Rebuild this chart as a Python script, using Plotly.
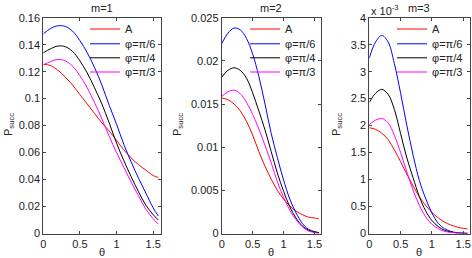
import plotly.graph_objects as go

# ---- data ----
theta = [0, 0.1, 0.2, 0.3, 0.4, 0.5, 0.6, 0.7, 0.8, 0.9, 1.0, 1.1, 1.2, 1.3, 1.4, 1.5, 1.57]
series_names = ["A", "φ=π/6", "φ=π/4", "φ=π/3"]
series_colors = ["#ff0000", "#0000ff", "#000000", "#ff00ff"]

# m = 1
m1_A    = [0.1255, 0.1245, 0.121, 0.116, 0.110, 0.103, 0.096, 0.089, 0.082, 0.076, 0.069, 0.062, 0.056, 0.051, 0.047, 0.043, 0.0415]
m1_pi6  = [0.148, 0.152, 0.154, 0.1535, 0.150, 0.143, 0.134, 0.123, 0.110, 0.095, 0.081, 0.066, 0.053, 0.041, 0.030, 0.019, 0.013]
m1_pi4  = [0.134, 0.137, 0.139, 0.1385, 0.135, 0.128, 0.119, 0.108, 0.096, 0.082, 0.067, 0.054, 0.042, 0.031, 0.021, 0.014, 0.010]
m1_pi3  = [0.125, 0.1275, 0.129, 0.128, 0.124, 0.117, 0.108, 0.097, 0.085, 0.072, 0.060, 0.049, 0.038, 0.028, 0.018, 0.011, 0.007]

# m = 2
m2_A    = [0.0157, 0.0155, 0.0150, 0.0142, 0.0130, 0.0114, 0.0095, 0.0078, 0.0063, 0.0050, 0.0040, 0.0032, 0.0026, 0.0022, 0.0019, 0.0018, 0.0017]
m2_pi6  = [0.0220, 0.0232, 0.0238, 0.0236, 0.0226, 0.0208, 0.0182, 0.0150, 0.0116, 0.0088, 0.0062, 0.0040, 0.0024, 0.0012, 0.0005, 0.0002, 0.0001]
m2_pi4  = [0.0181, 0.0189, 0.0192, 0.0189, 0.0180, 0.0163, 0.0142, 0.0120, 0.0095, 0.0070, 0.0049, 0.0031, 0.0018, 0.0009, 0.0004, 0.0002, 0.0001]
m2_pi3  = [0.0159, 0.0164, 0.0166, 0.0162, 0.0152, 0.0138, 0.0121, 0.0102, 0.0082, 0.0060, 0.0042, 0.0027, 0.0016, 0.0008, 0.0003, 0.0001, 0.0000]

# m = 3 (values in units of 1e-3)
m3_A    = [1.96, 1.93, 1.86, 1.74, 1.55, 1.33, 1.10, 0.88, 0.68, 0.52, 0.39, 0.29, 0.21, 0.16, 0.12, 0.095, 0.085]
m3_pi6  = [3.25, 3.55, 3.67, 3.55, 3.15, 2.60, 2.00, 1.45, 0.98, 0.65, 0.38, 0.19, 0.09, 0.04, 0.015, 0.005, 0.003]
m3_pi4  = [2.43, 2.60, 2.67, 2.58, 2.30, 1.85, 1.40, 1.03, 0.68, 0.42, 0.24, 0.13, 0.06, 0.03, 0.01, 0.005, 0.003]
m3_pi3  = [2.02, 2.10, 2.13, 2.05, 1.82, 1.50, 1.14, 0.80, 0.52, 0.31, 0.17, 0.09, 0.04, 0.02, 0.008, 0.003, 0.002]

panels = [
    ("m=1", [m1_A, m1_pi6, m1_pi4, m1_pi3], [0, 0.16],
     [0, 0.02, 0.04, 0.06, 0.08, 0.1, 0.12, 0.14, 0.16],
     ["0", "0.02", "0.04", "0.06", "0.08", "0.1", "0.12", "0.14", "0.16"]),
    ("m=2", [m2_A, m2_pi6, m2_pi4, m2_pi3], [0, 0.025],
     [0, 0.005, 0.01, 0.015, 0.02, 0.025],
     ["0", "0.005", "0.01", "0.015", "0.02", "0.025"]),
    ("m=3", [m3_A, m3_pi6, m3_pi4, m3_pi3], [0, 4],
     [0, 0.5, 1, 1.5, 2, 2.5, 3, 3.5, 4],
     ["0", "0.5", "1", "1.5", "2", "2.5", "3", "3.5", "4"]),
]
x_tickvals = [0, 0.5, 1, 1.5]
x_ticktext = ["0", "0.5", "1", "1.5"]

# ---- layout geometry (pixels in a 472x258 canvas) ----
W, H = 472, 258
x_dom_px = [(43.3, 160.5), (221.7, 320.7), (369.3, 469.5)]
y_dom_px = (17.7, 233.5)
legend_text_x = [125, 285, 432]
legend_rows_y = [29, 43.8, 57.8, 72]
ylabel_x = [9, 178, 337]

FONT = "Liberation Sans, Arial, sans-serif"
TXT = "#222222"
AX = "#444444"

fig = go.Figure()
layout = dict(
    width=W, height=H,
    margin=dict(l=0, r=0, t=0, b=0, autoexpand=False),
    paper_bgcolor="white", plot_bgcolor="white",
    font=dict(family=FONT, size=11, color=TXT),
    showlegend=True,
)
annotations = []

legend_idx = 0
for p, (title, ys, yr, ytv, ytt) in enumerate(panels):
    xa = "x" if p == 0 else f"x{p+1}"
    ya = "y" if p == 0 else f"y{p+1}"
    for s, (name, col, vals) in enumerate(zip(series_names, series_colors, ys)):
        legend_idx += 1
        lname = "legend" if legend_idx == 1 else f"legend{legend_idx}"
        fig.add_trace(go.Scatter(
            x=theta, y=vals, mode="lines", name=name,
            line=dict(color=col, width=1, shape="spline"),
            xaxis=xa, yaxis=ya, legend=lname, showlegend=True,
        ))
        layout[lname] = dict(
            x=(legend_text_x[p] - 40) / W, xanchor="left",
            y=1 - legend_rows_y[s] / H, yanchor="middle",
            bgcolor="rgba(0,0,0,0)", borderwidth=0,
            font=dict(family=FONT, size=11, color=TXT),
        )
    xd = x_dom_px[p]
    axkey = "xaxis" if p == 0 else f"xaxis{p+1}"
    aykey = "yaxis" if p == 0 else f"yaxis{p+1}"
    layout[axkey] = dict(
        domain=[xd[0] / W, xd[1] / W], range=[0, 1.6], anchor=ya,
        tickvals=x_tickvals, ticktext=x_ticktext,
        ticks="inside", ticklen=3, tickcolor=AX, tickwidth=1,
        showline=True, linecolor=AX, linewidth=1, mirror="ticks",
        showgrid=False, zeroline=False,
        tickfont=dict(family=FONT, size=11, color=TXT),
    )
    layout[aykey] = dict(
        domain=[1 - y_dom_px[1] / H, 1 - y_dom_px[0] / H], range=yr, anchor=xa,
        tickvals=ytv, ticktext=ytt,
        ticks="inside", ticklen=3, tickcolor=AX, tickwidth=1,
        showline=True, linecolor=AX, linewidth=1, mirror="ticks",
        showgrid=False, zeroline=False,
        tickfont=dict(family=FONT, size=11, color=TXT),
    )
    cx = (xd[0] + xd[1]) / 2
    annotations.append(dict(text=title, x=cx / W, y=1 - 7.5 / H, xref="paper", yref="paper",
                            xanchor="center", yanchor="middle", showarrow=False,
                            font=dict(family=FONT, size=11, color=TXT)))
    annotations.append(dict(text="θ", x=cx / W, y=1 - 252 / H, xref="paper", yref="paper",
                            xanchor="center", yanchor="middle", showarrow=False,
                            font=dict(family=FONT, size=11, color=TXT)))
    annotations.append(dict(text="P<sub>succ</sub>", x=ylabel_x[p] / W, y=1 - 125 / H,
                            xref="paper", yref="paper", textangle=-90,
                            xanchor="center", yanchor="middle", showarrow=False,
                            font=dict(family=FONT, size=11, color=TXT)))

annotations.append(dict(text="x 10<sup>-3</sup>", x=368.5 / W, y=1 - 10.5 / H,
                        xref="paper", yref="paper", xanchor="left", yanchor="middle",
                        showarrow=False, font=dict(family=FONT, size=11, color=TXT)))
layout["annotations"] = annotations
fig.update_layout(**layout)

fig.write_html(
    "out.html",
    config={"displayModeBar": False},
    post_script="document.body.style.margin='0';document.body.style.overflow='hidden';",
)
